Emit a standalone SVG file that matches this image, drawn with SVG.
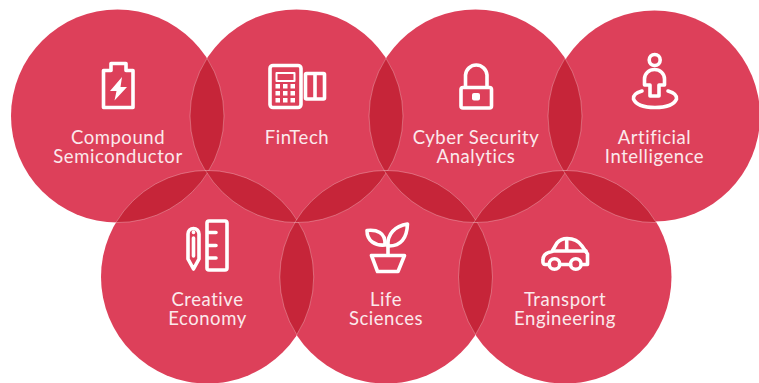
<svg xmlns="http://www.w3.org/2000/svg" width="759" height="383" viewBox="0 0 759 383">
<style>
.c{fill:#dd405a}
.l{fill:#c62539;stroke:#fff;stroke-opacity:.35;stroke-width:.8}
.i{fill:none;stroke:#fff;stroke-width:3.6;stroke-linejoin:round;stroke-linecap:round}
.f{fill:#fff}
text{font-family:"Lato","Liberation Sans",sans-serif;font-size:18.5px;fill:#fbe9ec;text-anchor:middle;letter-spacing:.55px}
</style>
<rect width="759" height="383" fill="#fff"/>
<g id="compound-semiconductor"><circle class="c" cx="117.500" cy="116" r="106.500"/>
<path class="i" d="M111 70.500V63.500H126V70.500H133V107.500H103.500V70.500Z"/><path class="f" d="M122 77L110 91H116.500L114.500 100.500L127 87H120.500Z"/>
<text x="118" y="144">Compound</text><text x="118" y="163">Semiconductor</text></g>
<g id="fintech"><circle class="c" cx="296.500" cy="116" r="106.500"/>
<rect class="i" x="270" y="65.500" width="31" height="42" rx="3"/><rect class="i" x="276.500" y="73" width="18" height="8" style="stroke-width:2"/>
<g class="f"><rect x="275.500" y="84" width="4.500" height="4.500"/><rect x="283" y="84" width="4.500" height="4.500"/><rect x="290.500" y="84" width="4.500" height="4.500"/><rect x="275.500" y="91" width="4.500" height="4.500"/><rect x="283" y="91" width="4.500" height="4.500"/><rect x="290.500" y="91" width="4.500" height="4.500"/><rect x="275.500" y="98" width="4.500" height="4.500"/><rect x="283" y="98" width="4.500" height="4.500"/><rect x="290.500" y="98" width="4.500" height="4.500"/></g>
<rect class="i" x="305.500" y="73.500" width="19" height="25.500" rx="1"/><path class="i" d="M315 74V98"/>
<text x="297" y="144">FinTech</text></g>
<g id="cyber-security-analytics"><circle class="c" cx="475.500" cy="116" r="106.500"/>
<rect class="i" x="461" y="87.500" width="30.500" height="20.500" rx="2"/><path class="i" d="M465.500 87V75A10.800 11 0 0 1 487 75V87"/><rect class="f" x="472" y="93" width="8" height="7.500" rx="2"/>
<text x="476" y="144">Cyber Security</text><text x="476" y="163">Analytics</text></g>
<g id="artificial-intelligence"><circle class="c" cx="654.500" cy="116" r="105.500"/>
<circle class="i" cx="654.700" cy="60" r="5.500"/><path class="i" d="M650 96V85H644.500V79A10 9.500 0 0 1 664.500 79V85H659V96Z"/><path class="i" d="M642 91C635 93 633 96 633.500 99C636 105 645 107.500 655 107.500C665 107.500 674 105 676.500 99C677 96 675 93 668 91"/>
<text x="654.500" y="144">Artificial</text><text x="654.500" y="163">Intelligence</text></g>
<g id="creative-economy"><circle class="c" cx="207.500" cy="277" r="106.500"/>
<path class="i" d="M188 259V234A5.500 5.500 0 0 1 199 234V259L193.500 269Z"/><path class="i" d="M193.500 232V232.500M193.500 238V256"/>
<rect class="i" x="207" y="221" width="20" height="49" rx="2"/><path class="i" d="M208 232.500H216M208 245.500H216M208 258H216"/>
<text x="207.500" y="306">Creative</text><text x="207.500" y="325">Economy</text></g>
<g id="life-sciences"><circle class="c" cx="386" cy="277" r="106.500"/>
<path class="i" d="M371.500 255.500H404.500L398 271.500H377.500Z"/><path class="i" d="M388 255V246"/>
<path class="i" d="M367 230.500C376 229.500 386 232 385 245C375 246 367 241 367 230.500Z"/><path class="i" d="M407.500 224C407 238 401 246.500 388 246C387 234 395 226 407.500 224Z"/>
<text x="386" y="306">Life</text><text x="386" y="325">Sciences</text></g>
<g id="transport-engineering"><circle class="c" cx="565" cy="277" r="106.500"/>
<path class="i" d="M548.500 264.500H545Q542.500 264.500 543 260Q543 253 552 251.500L557 243Q561 238.500 567 238.500Q577 238.500 582 246L587.500 254V264.500H581.500M559.500 264.500H570.500"/><path class="i" d="M553 251H586M566.700 239V251"/>
<circle class="i" cx="554.500" cy="264" r="5.300"/><circle class="i" cx="575.800" cy="264" r="5.300"/>
<text x="565" y="306">Transport</text><text x="565" y="325">Engineering</text></g>
<g id="connectors">
<path class="l" d="M207 58.300A106.500 106.500 0 0 1 207 173.700A106.500 106.500 0 0 1 207 58.300Z"/>
<path class="l" d="M386 58.300A106.500 106.500 0 0 1 386 173.700A106.500 106.500 0 0 1 386 58.300Z"/>
<path class="l" d="M565 58.300A106.500 106.500 0 0 1 565 173.700A106.500 106.500 0 0 1 565 58.300Z"/>
<path class="l" d="M296.750 219.300A106.500 106.500 0 0 1 296.750 334.700A106.500 106.500 0 0 1 296.750 219.300Z"/>
<path class="l" d="M475.500 219.300A106.500 106.500 0 0 1 475.500 334.700A106.500 106.500 0 0 1 475.500 219.300Z"/>
<path class="l" d="M115.900 222.600A106.500 106.500 0 0 1 209.100 170.400A106.500 106.500 0 0 1 115.900 222.600Z"/>
<path class="l" d="M205.400 170.400A106.500 106.500 0 0 1 298.600 222.600A106.500 106.500 0 0 1 205.400 170.400Z"/>
<path class="l" d="M294.700 222.600A106.500 106.500 0 0 1 387.800 170.400A106.500 106.500 0 0 1 294.700 222.600Z"/>
<path class="l" d="M384.100 170.400A106.500 106.500 0 0 1 477.300 222.600A106.500 106.500 0 0 1 384.100 170.400Z"/>
<path class="l" d="M473.700 222.600A106.500 106.500 0 0 1 566.800 170.400A106.500 106.500 0 0 1 473.700 222.600Z"/>
<path class="l" d="M563.100 170.400A106.500 106.500 0 0 1 656.300 222.600A106.500 106.500 0 0 1 563.100 170.400Z"/>
</g>
</svg>
